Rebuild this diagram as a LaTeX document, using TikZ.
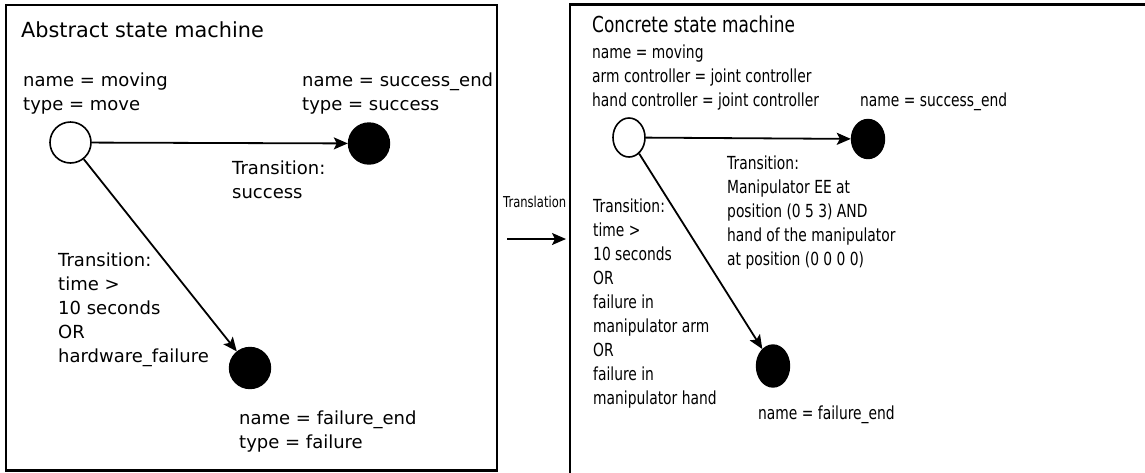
\documentclass[tikz,border=0pt]{standalone}
\usepackage{fontspec}
\setmainfont{DejaVu Sans}
\newfontfamily\narrowfont{DejaVu Sans}[FakeStretch=0.77]
\usetikzlibrary{arrows.meta,shapes.geometric}
% multi-line labels are placed by the baseline of their last line
\tikzset{
  panel/.style={draw=black, line width=2.2pt},
  txt/.style={inner sep=0pt, anchor=base west, align=left,
    font=\fontsize{18}{24}\selectfont},
  ntxt/.style={inner sep=0pt, anchor=base west, align=left,
    font=\narrowfont\fontsize{18}{24}\selectfont},
  heading/.style={inner sep=0pt, anchor=base west,
    font=\fontsize{20.8}{24}\selectfont},
  nheading/.style={inner sep=0pt, anchor=base west,
    font=\narrowfont\fontsize{22}{24}\selectfont},
  openstate/.style={draw=black, fill=white, line width=1.6pt, ellipse, inner sep=0pt},
  endstate/.style={draw=black, fill=black, line width=1.4pt, ellipse, inner sep=0pt},
  trans/.style={line width=1.8pt, -{Stealth[length=14pt,width=12pt,inset=3pt]}},
}
\begin{document}
\begin{tikzpicture}[x=1pt, y=-1pt]
\useasboundingbox (0,0) rectangle (1145,472);
\fill[white] (0,0) rectangle (1145,472);

% ---- abstract machine ----
\draw[panel] (6,5) rectangle (497,470.5);
\node[heading] (atitle) at (21,37) {Abstract state machine};
\node[txt] (amovl) at (23,110) {name = moving\\type = move};
\node[txt] (asucl) at (302,110) {name = success\_end\\type = success};
\node[openstate, minimum width=41pt, minimum height=41pt] (amove) at (70.5,142.5) {};
\node[endstate, minimum width=41pt, minimum height=41pt] (asucc) at (369,143.5) {};
\node[endstate, minimum width=41pt, minimum height=41pt] (afail) at (250,368) {};
\draw[trans] (amove) -- (asucc);
\draw[trans] (amove) -- (afail);
\node[txt] (asuct) at (232,198) {Transition:\\success};
\node[txt] (afailt) at (58,362) {Transition:\\time >\\10 seconds\\OR\\hardware\_failure};
\node[txt] (afaill) at (239,448) {name = failure\_end\\type = failure};

% ---- translation step ----
\node[inner sep=0pt, anchor=base west, font=\narrowfont\fontsize{15}{18}\selectfont]
  (tlabel) at (503,207) {Translation};
\coordinate (tfrom) at (507,239);
\coordinate (tto) at (566,239);
\draw[trans] (tfrom) -- (tto);

% ---- concrete machine ----
\draw[panel] (570,480) -- (570,4.5) -- (1150,4.5);
\node[nheading] (ctitle) at (592,32) {Concrete state machine};
\node[ntxt] (cmovl) at (592,106) {name = moving\\arm controller = joint controller\\hand controller = joint controller};
\node[ntxt] (csucl) at (860,106) {name = success\_end};
\node[openstate, minimum width=32pt, minimum height=39pt] (cmove) at (629,137.5) {};
\node[endstate, minimum width=33pt, minimum height=39pt] (csucc) at (868,139) {};
\node[endstate, minimum width=33pt, minimum height=42pt] (cfail) at (773,366) {};
\draw[trans] (cmove) -- (csucc);
\draw[trans] (cmove) -- (cfail);
\node[ntxt] (csuct) at (727,265) {Transition:\\Manipulator EE at\\position (0 5 3) AND\\hand of the manipulator\\at position (0 0 0 0)};
\node[ntxt] (cfailt) at (593,404) {Transition:\\time >\\10 seconds\\OR\\failure in\\manipulator arm\\OR\\failure in\\manipulator hand};
\node[ntxt] (cfaill) at (758,419) {name = failure\_end};
\end{tikzpicture}
\end{document}
